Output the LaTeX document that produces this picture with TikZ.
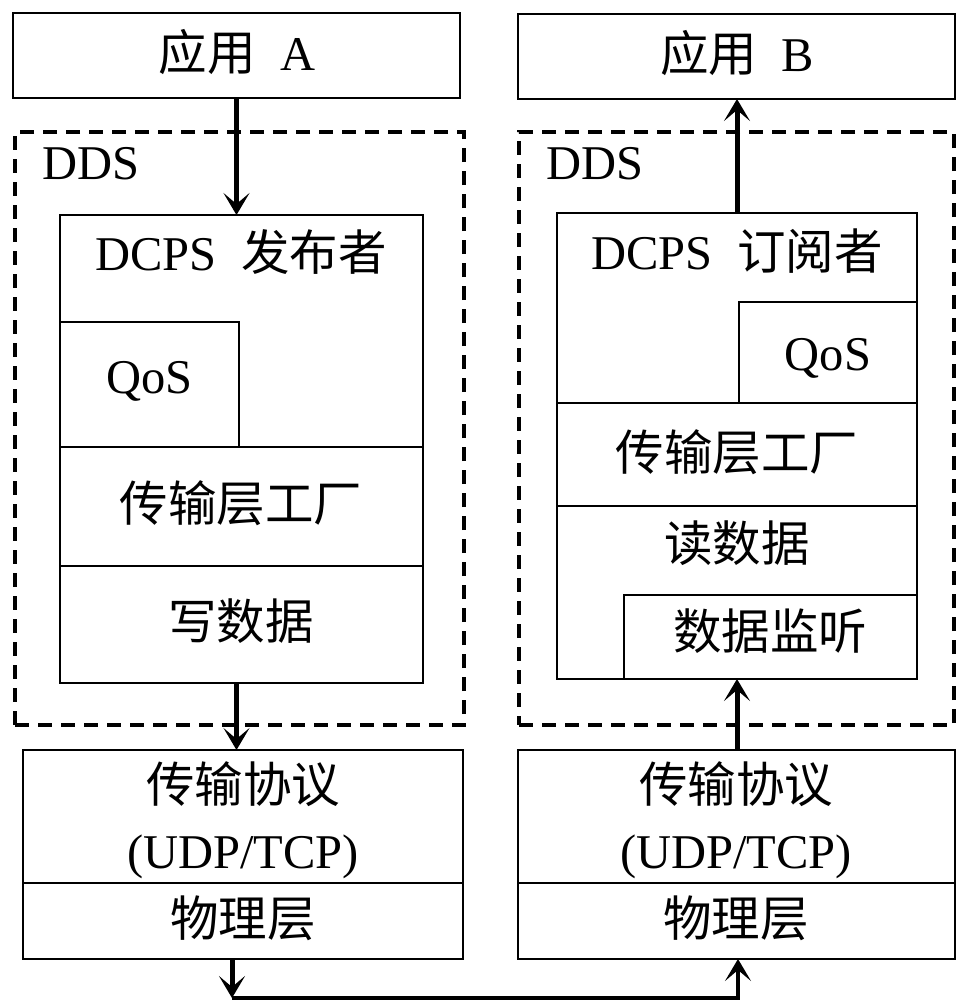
\documentclass[tikz,border=0pt]{standalone}
\usepackage{fontspec}
\setmainfont{Liberation Serif}
\newfontfamily\cjk{Noto Sans CJK SC}
\usetikzlibrary{arrows.meta}
\newcommand{\zh}[1]{{\cjk #1}}
\begin{document}
\begin{tikzpicture}[x=1pt,y=-1pt,
  box/.style={draw, line width=2.4pt, anchor=north west, inner sep=0pt, outer sep=0pt},
  ddsbox/.style={draw, line width=3.4pt, dash pattern=on 14pt off 9pt, anchor=north west, inner sep=0pt, outer sep=0pt},
  lbl/.style={font=\fontsize{48.5}{66}\selectfont, inner sep=0pt, align=center},
  arr/.style={line width=5pt, -{Stealth[length=22pt,width=26pt,inset=11pt]}},
  link/.style={line width=4.5pt}
]
\useasboundingbox (0,0) rectangle (957,1001);

% ---------- left side ----------
\node[box, minimum width=447pt, minimum height=85pt] (appA) at (13,13) {};
\node[lbl] (appAt) at (237,52) {\zh{应用}~~A};
\node[ddsbox, minimum width=449pt, minimum height=593pt] (ddsL) at (15,132) {};
\node[lbl] (ddsLt) at (91,164) {DDS};
\node[box, minimum width=363pt, minimum height=468pt] (pub) at (60,215) {};
\node[lbl] (pubt) at (241,252) {DCPS~~\zh{发布者}};
\node[box, minimum width=179pt, minimum height=125pt] (qosL) at (60,322) {};
\node[lbl] (qosLt) at (149.5,381) {QoS};
\node[box, minimum width=363pt, minimum height=119pt] (tfL) at (60,447) {};
\node[lbl] (tfLt) at (241,503) {\zh{传输层工厂}};
\node[box, minimum width=363pt, minimum height=117pt] (wrL) at (60,566) {};
\node[lbl] (wrLt) at (241,621) {\zh{写数据}};
\node[box, minimum width=440pt, minimum height=133pt] (trL) at (23,750) {};
\node[lbl] (trLt) at (243,820) {\zh{传输协议}\\(UDP/TCP)};
\node[box, minimum width=440pt, minimum height=76pt] (phL) at (23,883) {};
\node[lbl] (phLt) at (243,918) {\zh{物理层}};

% ---------- right side ----------
\node[box, minimum width=437pt, minimum height=85pt] (appB) at (518,14) {};
\node[lbl] (appBt) at (737,53) {\zh{应用}~~B};
\node[ddsbox, minimum width=435pt, minimum height=593pt] (ddsR) at (519,132) {};
\node[lbl] (ddsRt) at (595,164) {DDS};
\node[box, minimum width=360pt, minimum height=466pt] (sub) at (557,213) {};
\node[lbl] (subt) at (737,251) {DCPS~~\zh{订阅者}};
\node[box, minimum width=178pt, minimum height=101pt] (qosR) at (739,302) {};
\node[lbl] (qosRt) at (828,358) {QoS};
\node[box, minimum width=360pt, minimum height=103pt] (tfR) at (557,403) {};
\node[lbl] (tfRt) at (737,452) {\zh{传输层工厂}};
\node[box, minimum width=360pt, minimum height=173pt] (rdR) at (557,506) {};
\node[lbl] (rdRt) at (737,543) {\zh{读数据}};
\node[box, minimum width=293pt, minimum height=84pt] (lsR) at (624,595) {};
\node[lbl] (lsRt) at (770,631) {\zh{数据监听}};
\node[box, minimum width=437pt, minimum height=133pt] (trR) at (518,750) {};
\node[lbl] (trRt) at (736,820) {\zh{传输协议}\\(UDP/TCP)};
\node[box, minimum width=437pt, minimum height=76pt] (phR) at (518,883) {};
\node[lbl] (phRt) at (736,918) {\zh{物理层}};

% ---------- connectors ----------
\draw[arr] (appA.south) -- (appA.south |- pub.north);
\draw[arr] (appA.south |- wrL.south) -- (appA.south |- trL.north);
\draw[arr] (sub.north) -- (sub.north |- appB.south);
\draw[arr] (sub.north |- trR.north) -- (sub.north |- rdR.south);
\coordinate (bl) at (232,998);
\coordinate (br) at (738,998);
\draw[arr] (bl |- phL.south) -- (bl);
\draw[link, arr, line width=4.5pt] (bl) -- (br) -- (br |- phR.south);
\end{tikzpicture}
\end{document}
